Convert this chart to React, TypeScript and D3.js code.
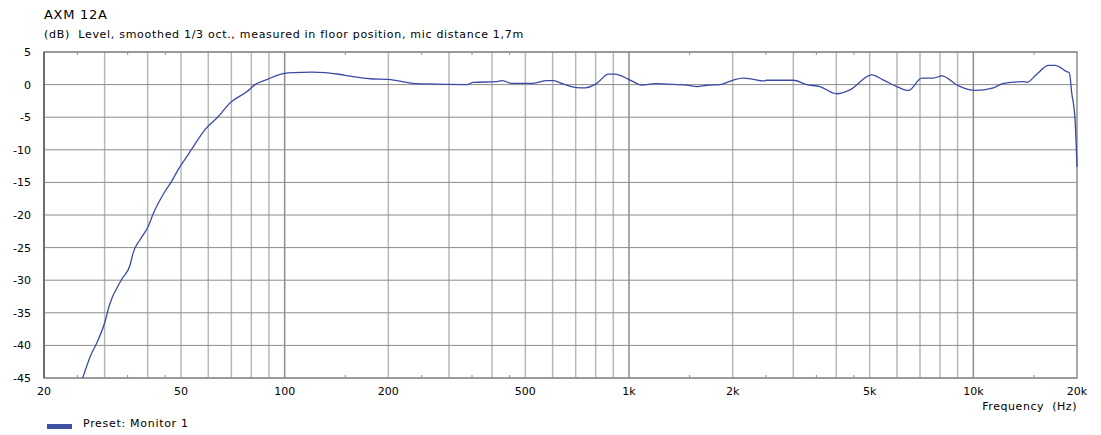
import React from 'react';
import * as d3 from 'd3';

// frequency response (Hz, dB)
const freqs = [
  25.9, 27.5, 28.3, 30.1, 30.9, 33.6, 35.6, 36.3, 38.0, 40.2, 41.6, 44.9, 47.0,
  49.1, 52.5, 54.3, 58.7, 64.2, 69.4, 77.6, 82.0, 88.7, 99.1, 106, 120, 131,
  145, 155, 177, 200, 236, 258, 338, 353, 413, 427, 456, 527, 577, 603, 644,
  705, 745, 806, 871, 910, 1007, 1089, 1191, 1288, 1472, 1574, 1683, 1838,
  2009, 2149, 2297, 2456, 2512, 3000, 3280, 3586, 4009, 4383, 5067, 5480,
  5995, 6477, 7085, 7661, 8096, 9055, 10119, 11433, 12230, 13971, 14290,
  15280, 16520, 17270, 18670, 19000, 19310, 19740, 19900, 20000,
];
const levels = [
  -45, -41.2, -39.9, -36.3, -34.0, -29.9, -27.6, -25.8, -23.8, -21.7, -19.7, -16.4, -14.8,
  -13.0, -10.7, -9.5, -6.9, -4.9, -2.8, -1.1, 0, 0.77, 1.69, 1.85, 1.9, 1.85,
  1.55, 1.3, 0.9, 0.8, 0.2, 0.1, 0.0, 0.35, 0.45, 0.6, 0.2, 0.2, 0.6, 0.6, 0.1,
  -0.45, -0.5, 0.18, 1.6, 1.6, 0.7, -0.08, 0.15, 0.07, -0.08, -0.3, -0.1, 0,
  0.7, 0.98, 0.8, 0.57, 0.67, 0.67, 0, -0.3, -1.4, -0.8, 1.5, 0.7,
  -0.3, -0.9, 1.0, 1.0, 1.33, -0.2, -0.9, -0.5, 0.2, 0.45, 0.35,
  1.6, 2.95, 2.95, 2.0, 1.8, -1.3, -5.4, -9.5, -12.6,
];

const yTicks = [5, 0, -5, -10, -15, -20, -25, -30, -35, -40, -45];
const xLabels = [20, 50, 100, 200, 500, 1000, 2000, 5000, 10000, 20000];
const gridFreqs = [
  30, 40, 50, 60, 70, 80, 90, 100, 200, 300, 400, 500, 600, 700, 800, 900,
  1000, 2000, 3000, 4000, 5000, 6000, 7000, 8000, 9000, 10000,
];
const minorTicks = [25, 35, 45, 150, 250, 350, 450, 1500, 2500, 3500, 4500, 15000];

const title = 'AXM 12A';
const subtitle = '(dB)  Level, smoothed 1/3 oct., measured in floor position, mic distance 1,7m';
const seriesName = 'Preset: Monitor 1';

const W = 1101;
const H = 435;
const font = "Verdana, 'DejaVu Sans', sans-serif";
const spacing = 0.7; // DejaVu is a bit narrower than the Verdana of the original

export default function App() {
  const x = d3.scaleLog().domain([20, 20000]).range([44, 1077]);
  const y = d3.scaleLinear().domain([-45, 5]).range([378, 52]);
  const pts = freqs.map((f, i) => [f, levels[i]] as [number, number]);
  const line = d3
    .line<[number, number]>()
    .x(d => x(d[0]))
    .y(d => y(d[1]))
    .curve(d3.curveMonotoneX);

  const fmt = (f: number) => (f >= 1000 ? `${f / 1000}k` : `${f}`);
  const isDecade = (f: number) => [100, 1000, 10000].includes(f);

  return (
    <svg
      width={W}
      height={H}
      style={{ position: 'absolute', left: 0, top: 0, background: '#fff' }}
      fontFamily={font}
    >
      <text x={44} y={19} fontSize={13} letterSpacing={spacing} fill="#000">{title}</text>
      <text x={44} y={38} fontSize={11} letterSpacing={spacing} fill="#000" style={{ whiteSpace: 'pre' }}>
        {subtitle}
      </text>

      {/* vertical grid */}
      {gridFreqs.map(f => (
        <line
          key={'v' + f}
          x1={x(f)}
          x2={x(f)}
          y1={y(5)}
          y2={y(-45)}
          stroke={isDecade(f) ? '#8c8c8c' : '#b8b8b8'}
          strokeWidth={1.5}
        />
      ))}
      {/* horizontal grid */}
      {yTicks.map(v => (
        <line
          key={'h' + v}
          x1={x(20)}
          x2={x(20000)}
          y1={y(v)}
          y2={y(v)}
          stroke="#8c8c8c"
          strokeWidth={1}
        />
      ))}
      {/* minor ticks top & bottom */}
      {minorTicks.map(f => (
        <g key={'m' + f} stroke="#8c8c8c">
          <line x1={x(f)} x2={x(f)} y1={y(5)} y2={y(5) + 3} />
          <line x1={x(f)} x2={x(f)} y1={y(-45)} y2={y(-45) - 3} />
        </g>
      ))}
      {/* frame */}
      <rect
        x={x(20)}
        y={y(5)}
        width={x(20000) - x(20)}
        height={y(-45) - y(5)}
        fill="none"
        stroke="#8c8c8c"
        strokeWidth={1.5}
      />
      <line x1={x(20)} x2={x(20)} y1={y(5)} y2={y(-45)} stroke="#6e6e6e" strokeWidth={2} />

      {/* y labels */}
      {yTicks.map(v => (
        <text key={'yl' + v} x={31} y={y(v) + 4} fontSize={11} textAnchor="end" fill="#000">
          {v}
        </text>
      ))}
      {/* x labels */}
      {xLabels.map(f => (
        <text key={'xl' + f} x={x(f)} y={395} fontSize={11} textAnchor="middle" fill="#000">
          {fmt(f)}
        </text>
      ))}
      <text
        x={1077}
        y={410}
        fontSize={11}
        letterSpacing={0.55}
        textAnchor="end"
        fill="#000"
        style={{ whiteSpace: 'pre' }}
      >
        {'Frequency  (Hz)'}
      </text>

      {/* response curve */}
      <path d={line(pts) ?? ''} fill="none" stroke="#3b4aa6" strokeWidth={1.3} />

      {/* legend */}
      <rect x={47} y={424} width={25} height={5} fill="#3f51a5" />
      <text x={83} y={427} fontSize={11} letterSpacing={spacing} fill="#000">{seriesName}</text>
    </svg>
  );
}
